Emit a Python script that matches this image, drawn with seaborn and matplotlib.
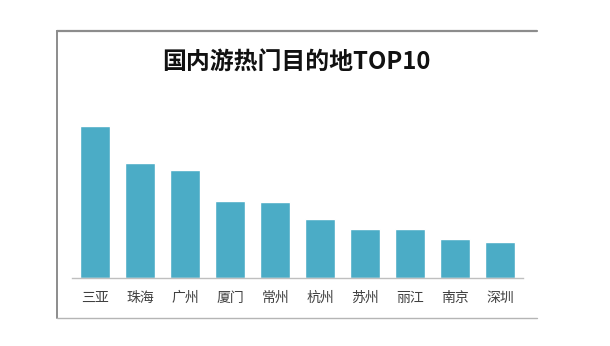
import matplotlib
matplotlib.use("Agg")
import matplotlib.pyplot as plt
from matplotlib.lines import Line2D
import pandas as pd
import seaborn as sns

# Top 10 domestic travel destinations (relative popularity)
cities = ["三亚", "珠海", "广州", "厦门", "常州", "杭州", "苏州", "丽江", "南京", "深圳"]
popularity = [152, 115, 108, 77, 76, 59, 49.5, 49, 39, 36]
title = "国内游热门目的地TOP10"

sns.set_theme(style="white")
plt.rcParams["font.family"] = ["Noto Sans CJK SC", "DejaVu Sans"]

df = pd.DataFrame({"city": cities, "value": popularity})

fig = plt.figure(figsize=(6.10, 3.46), dpi=100)
ax = fig.add_axes([72 / 610, (346 - 278.3) / 346, (523 - 72) / 610, (278.3 - 100) / 346])

sns.barplot(data=df, x="city", y="value", color="#4BACC6", saturation=1,
            width=0.667, ax=ax)

ax.set_xlim(-0.52, 9.51)
ax.set_ylim(0, 178.3)
ax.set_xlabel("")
ax.set_ylabel("")
ax.set_yticks([])
for s in ["top", "right", "left"]:
    ax.spines[s].set_visible(False)
ax.spines["bottom"].set_color("#bfbfbf")
ax.spines["bottom"].set_linewidth(1.0)
ax.tick_params(axis="x", length=0, pad=9, labelsize=10, labelcolor="#404040")

fig.text(296 / 610, 1 - 63 / 346, title, ha="center", va="center",
         fontsize=17.2, fontweight="bold", color="#111111")

# chart frame: top, left and bottom edges
x0, x1 = 57 / 610, 537 / 610
yt, yb = 1 - 31 / 346, 1 - 318 / 346
fig.add_artist(Line2D([x0, x1], [yt, yt], color="#8c8c8c", lw=1.6))
fig.add_artist(Line2D([x0, x0], [yt, yb], color="#8c8c8c", lw=1.4))
fig.add_artist(Line2D([x0, x1], [yb, yb], color="#b5b5b5", lw=1.0))

fig.savefig("out.png", dpi=100)
